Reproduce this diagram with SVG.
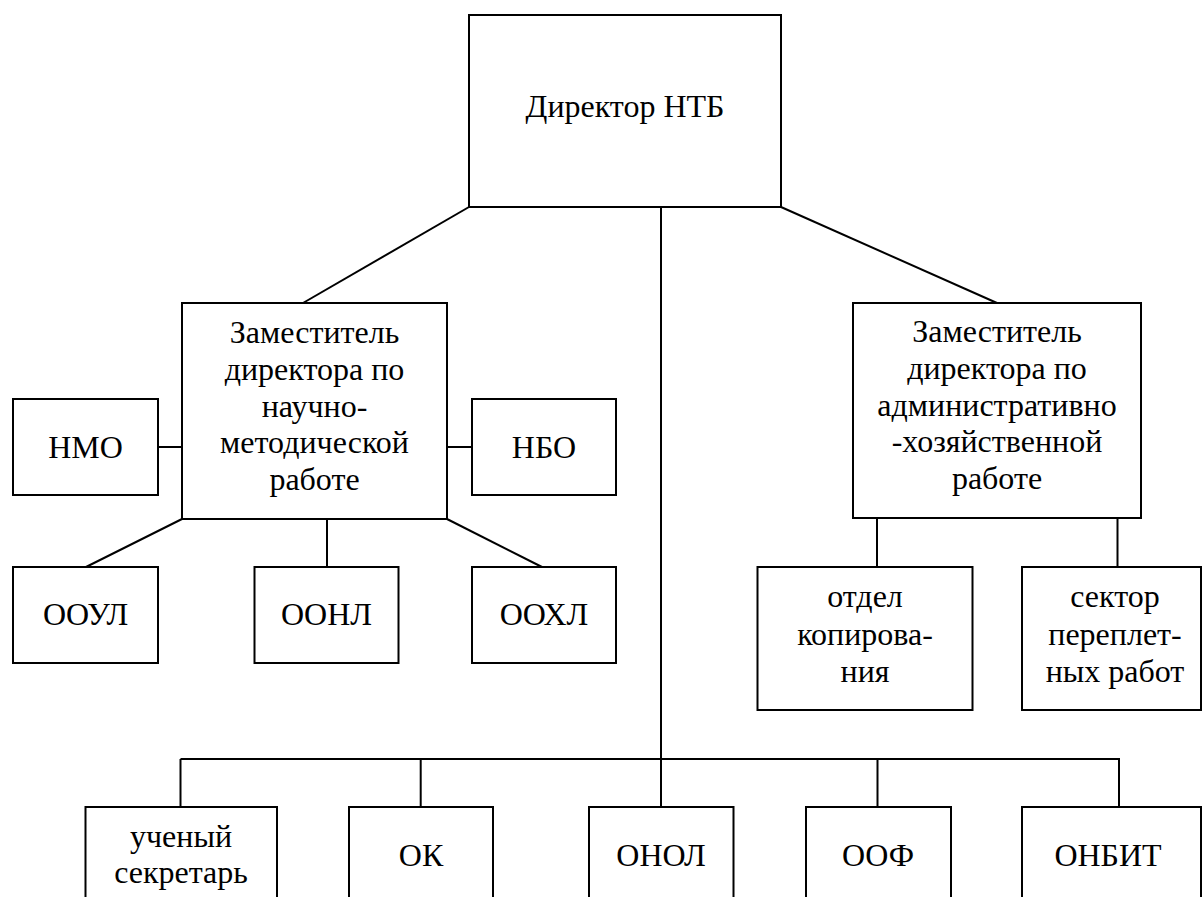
<svg xmlns="http://www.w3.org/2000/svg" width="1202" height="897" viewBox="0 0 1202 897" font-family="Liberation Serif, Times New Roman, serif">
<style>
.box{fill:#fff;stroke:#000;stroke-width:2}
.ln{stroke:#000;stroke-width:2}
.t{font-family:'Liberation Serif','Times New Roman',serif;font-size:32px;fill:#000;text-anchor:middle}
</style>
<rect x="0" y="0" width="1202" height="897" fill="#fff"/>
<g id="connectors">
<line class="ln" x1="469" y1="207" x2="303" y2="303"/>
<line class="ln" x1="781" y1="207" x2="997" y2="303"/>
<line class="ln" x1="661" y1="207" x2="661" y2="807"/>
<line class="ln" x1="180.5" y1="759" x2="1119" y2="759"/>
<line class="ln" x1="180.5" y1="759" x2="180.5" y2="807"/>
<line class="ln" x1="420.7" y1="759" x2="420.7" y2="807"/>
<line class="ln" x1="877.5" y1="759" x2="877.5" y2="807"/>
<line class="ln" x1="1119" y1="758" x2="1119" y2="807"/>
<line class="ln" x1="182" y1="519" x2="86" y2="567"/>
<line class="ln" x1="327" y1="519" x2="327" y2="567"/>
<line class="ln" x1="447" y1="519" x2="542" y2="567"/>
<line class="ln" x1="158" y1="447" x2="182" y2="447"/>
<line class="ln" x1="447" y1="447" x2="472" y2="447"/>
<line class="ln" x1="877" y1="518" x2="877" y2="567"/>
<line class="ln" x1="1117.5" y1="517" x2="1117.5" y2="567"/>
</g>
<g id="director"><rect class="box" x="469" y="15" width="312" height="192"/><text class="t" x="625" y="117">Директор НТБ</text></g>
<g id="dep-sci"><rect class="box" x="182" y="303" width="265" height="216"/>
<text class="t" x="314.5" y="343">Заместитель</text><text class="t" x="314.5" y="380">директора по</text><text class="t" x="314.5" y="417">научно-</text><text class="t" x="314.5" y="453">методической</text><text class="t" x="314.5" y="490">работе</text></g>
<g id="nmo"><rect class="box" x="13" y="399" width="145" height="96"/><text class="t" x="85.5" y="458">НМО</text></g>
<g id="nbo"><rect class="box" x="472" y="399" width="144" height="96"/><text class="t" x="544" y="458">НБО</text></g>
<g id="ooul"><rect class="box" x="13" y="567" width="145" height="96"/><text class="t" x="85.5" y="625">ООУЛ</text></g>
<g id="oonl"><rect class="box" x="254.5" y="567" width="144" height="96"/><text class="t" x="326.5" y="625">ООНЛ</text></g>
<g id="oohl"><rect class="box" x="472" y="567" width="144" height="96"/><text class="t" x="544" y="625">ООХЛ</text></g>
<g id="dep-adm"><rect class="box" x="853" y="303" width="288" height="215"/>
<text class="t" x="997" y="342">Заместитель</text><text class="t" x="997" y="379">директора по</text><text class="t" x="997" y="416">административно</text><text class="t" x="997" y="452">-хозяйственной</text><text class="t" x="997" y="489">работе</text></g>
<g id="copy"><rect class="box" x="757.5" y="567" width="215" height="143"/><text class="t" x="865" y="607">отдел</text><text class="t" x="865" y="645">копирова-</text><text class="t" x="865" y="682">ния</text></g>
<g id="bind"><rect class="box" x="1022" y="567" width="179" height="143"/><text class="t" x="1115" y="607">сектор</text><text class="t" x="1115" y="645">переплет-</text><text class="t" x="1115" y="682">ных работ</text></g>
<g id="secretary"><rect class="box" x="85.5" y="807" width="191.5" height="120"/><text class="t" x="181" y="847">ученый</text><text class="t" x="181" y="883">секретарь</text></g>
<g id="ok"><rect class="box" x="349" y="807" width="144" height="120"/><text class="t" x="421" y="866">ОК</text></g>
<g id="onol"><rect class="box" x="589" y="807" width="144.5" height="120"/><text class="t" x="661" y="866">ОНОЛ</text></g>
<g id="oof"><rect class="box" x="806" y="807" width="145" height="120"/><text class="t" x="878" y="866">ООФ</text></g>
<g id="onbit"><rect class="box" x="1022" y="807" width="179" height="120"/><text class="t" x="1108" y="866">ОНБИТ</text></g>
</svg>
